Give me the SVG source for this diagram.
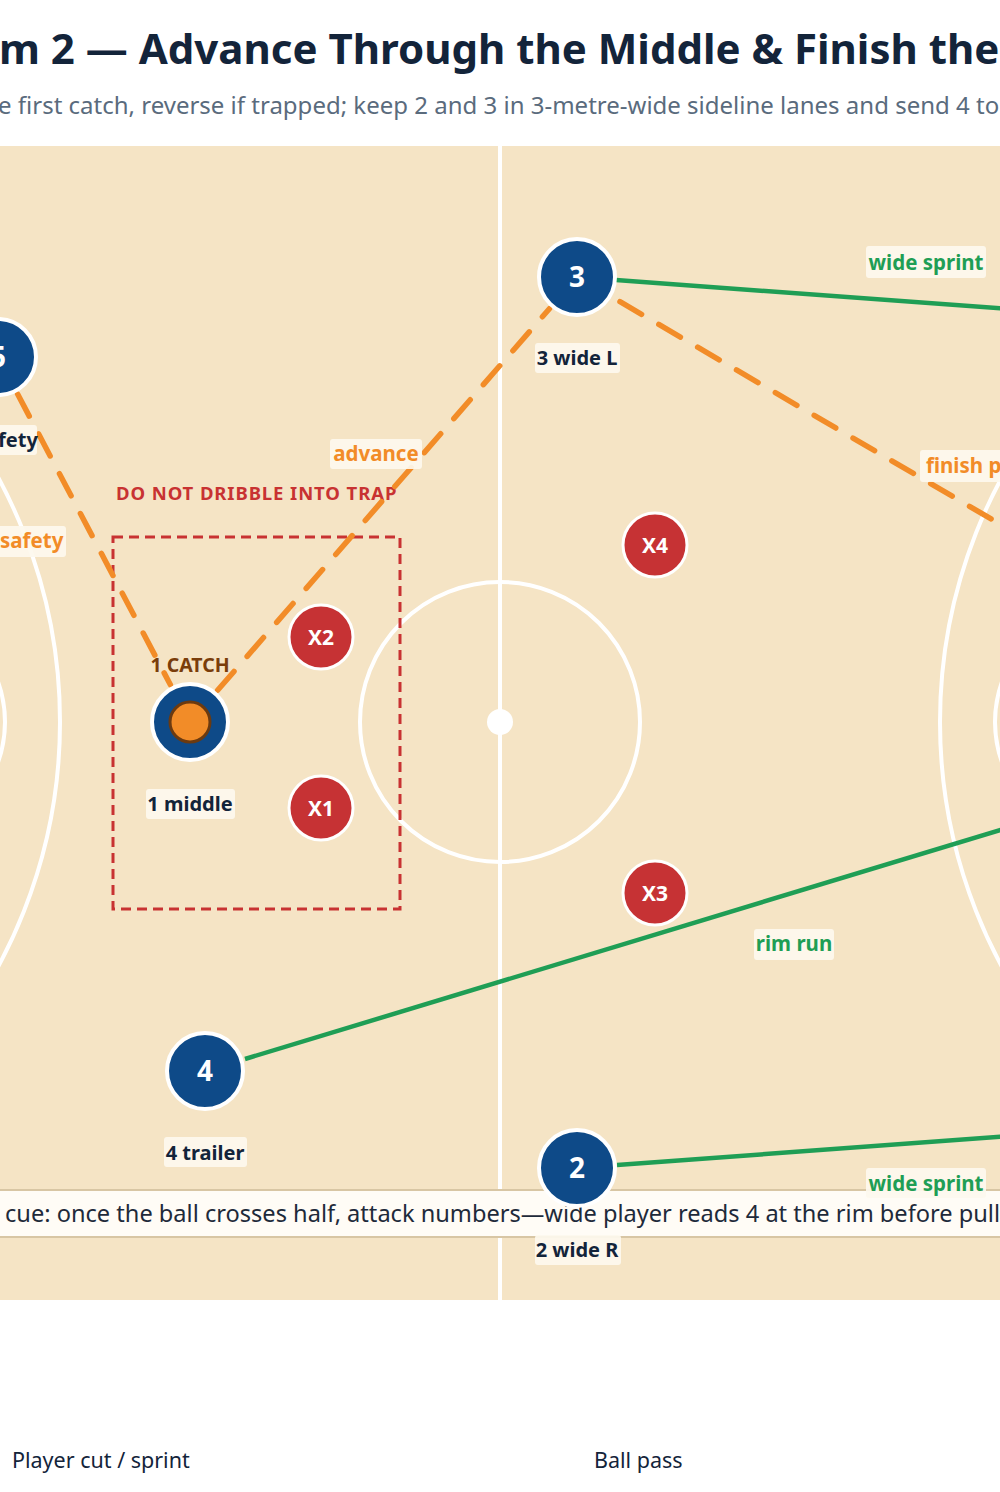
<svg xmlns="http://www.w3.org/2000/svg" width="1000" height="1492" viewBox="0 0 1000 1492">
<defs>
<style>
.title{font-family:"Noto Sans","Open Sans",sans-serif;font-weight:700;font-size:42px;fill:#13243a}
.sub{font-family:"Noto Sans","Open Sans",sans-serif;font-size:24px;fill:#5a6b7d}
.court{fill:none;stroke:#ffffff;stroke-width:4}
.pc{fill:#0e4a88;stroke:#ffffff;stroke-width:4}
.pn{font-family:"Noto Sans",sans-serif;font-weight:700;font-size:28px;fill:#ffffff;text-anchor:middle}
.dc{fill:#c63234;stroke:#ffffff;stroke-width:3}
.dn{font-family:"Noto Sans",sans-serif;font-weight:700;font-size:21px;fill:#ffffff;text-anchor:middle}
.lb{fill:#fdf8ee;fill-opacity:0.92}
.nl{font-family:"Noto Sans",sans-serif;font-weight:700;font-size:20px;fill:#13243a;text-anchor:middle}
.ol{font-family:"Noto Sans",sans-serif;font-weight:700;font-size:20.5px;fill:#f28c28}
.gl{font-family:"Noto Sans",sans-serif;font-weight:700;font-size:20.5px;fill:#1f9e55}
.pass{fill:none;stroke:#f28c28;stroke-width:5.5;stroke-dasharray:25 20;stroke-linecap:round}
.cut{fill:none;stroke:#1f9e55;stroke-width:4.5}
.leg{font-family:"Noto Sans",sans-serif;font-size:21.5px;fill:#13243a}
</style>
</defs>
<rect x="0" y="0" width="1000" height="1492" fill="#ffffff"/>
<text class="title" x="-1" y="64">m 2 — Advance Through the Middle &amp; Finish the</text>
<text class="sub" x="-2" y="114">e first catch, reverse if trapped; keep 2 and 3 in 3-metre-wide sideline lanes and send 4 to</text>

<g id="court">
<rect x="0" y="146" width="1000" height="1154" fill="#f5e4c5"/>
<line class="court" x1="500" y1="146" x2="500" y2="1300"/>
<circle class="court" cx="500" cy="722" r="140"/>
<circle cx="500" cy="722" r="13" fill="#ffffff"/>
<circle class="court" cx="-454" cy="722" r="514"/>
<circle class="court" cx="-115" cy="722" r="120"/>
<circle class="court" cx="1454" cy="722" r="514"/>
<circle class="court" cx="1115" cy="722" r="120"/>
</g>

<g id="trap-zone">
<rect x="113" y="537" width="287" height="372" fill="none" stroke="#c83232" stroke-width="3" stroke-dasharray="10 6"/>
<text x="116" y="500" font-family="Noto Sans, sans-serif" font-weight="700" font-size="18.5" letter-spacing="0.9" fill="#c83232">DO NOT DRIBBLE INTO TRAP</text>
</g>

<g id="connectors">
<line class="pass" x1="17.6" y1="394" x2="170.4" y2="684.8"/>
<line class="pass" x1="217.6" y1="690.3" x2="549.4" y2="308.7"/>
<line class="pass" x1="620" y1="301.7" x2="1010" y2="530"/>
<line class="cut" x1="616" y1="280" x2="1010" y2="309"/>
<line class="cut" x1="245" y1="1059" x2="1010" y2="827"/>
<line class="cut" x1="617" y1="1165" x2="1010" y2="1136"/>
</g>

<g id="note">
<rect x="-10" y="1190" width="1020" height="47" fill="#fffcf6" stroke="#d8c6a4" stroke-width="2"/>
<text x="5" y="1222" font-family="Noto Sans, sans-serif" font-size="23.6" fill="#1e2a3a">cue: once the ball crosses half, attack numbers—wide player reads 4 at the rim before pull</text>
</g>

<g id="connector-labels">
<rect class="lb" x="330" y="439" width="92" height="30" rx="3"/>
<text class="ol" x="376" y="461" text-anchor="middle">advance</text>
<rect class="lb" x="920" y="450" width="84" height="32" rx="3"/>
<text class="ol" x="926" y="473">finish p</text>
<rect class="lb" x="-4" y="526" width="70" height="31" rx="3"/>
<text class="ol" x="0" y="548">safety</text>
<rect class="lb" x="866" y="246" width="120" height="32" rx="3"/>
<text class="gl" x="926" y="270" text-anchor="middle">wide sprint</text>
<rect class="lb" x="754" y="929" width="80" height="31" rx="3"/>
<text class="gl" x="794" y="951" text-anchor="middle">rim run</text>
<rect class="lb" x="866" y="1168" width="120" height="30" rx="3"/>
<text class="gl" x="926" y="1191" text-anchor="middle">wide sprint</text>
</g>

<g id="X2"><circle class="dc" cx="321" cy="637" r="32"/><text class="dn" x="321" y="645">X2</text></g>
<g id="X1"><circle class="dc" cx="321" cy="808" r="32"/><text class="dn" x="321" y="816">X1</text></g>
<g id="X4"><circle class="dc" cx="655" cy="545" r="32"/><text class="dn" x="655" y="553">X4</text></g>
<g id="X3"><circle class="dc" cx="655" cy="893" r="32"/><text class="dn" x="655" y="901">X3</text></g>

<g id="P5"><circle class="pc" cx="-2" cy="357" r="38"/><text class="pn" x="-2" y="367">5</text>
<rect class="lb" x="-4" y="425" width="41" height="30" rx="3"/><text class="nl" x="18" y="447">fety</text></g>
<g id="P3"><circle class="pc" cx="577" cy="277" r="38"/><text class="pn" x="577" y="287">3</text>
<rect class="lb" x="535" y="343" width="85" height="30" rx="3"/><text class="nl" x="577" y="365">3 wide L</text></g>
<g id="P1"><circle class="pc" cx="190" cy="722" r="38"/><circle cx="190" cy="722" r="20" fill="#f28c28" stroke="#6b3a10" stroke-width="3"/>
<text x="190" y="672" font-family="Noto Sans, sans-serif" font-weight="700" font-size="19.5" fill="#7a3d0a" text-anchor="middle">1 CATCH</text>
<rect class="lb" x="146" y="789" width="89" height="30" rx="3"/><text class="nl" x="190" y="811">1 middle</text></g>
<g id="P4"><circle class="pc" cx="205" cy="1071" r="38"/><text class="pn" x="205" y="1081">4</text>
<rect class="lb" x="164" y="1137" width="83" height="30" rx="3"/><text class="nl" x="205" y="1160">4 trailer</text></g>
<g id="P2"><circle class="pc" cx="577" cy="1168" r="38"/><text class="pn" x="577" y="1178">2</text>
<rect class="lb" x="535" y="1235" width="86" height="30" rx="3"/><text class="nl" x="577" y="1257">2 wide R</text></g>

<g id="legend">
<text class="leg" x="12" y="1468">Player cut / sprint</text>
<text class="leg" x="594" y="1468">Ball pass</text>
</g>
</svg>
